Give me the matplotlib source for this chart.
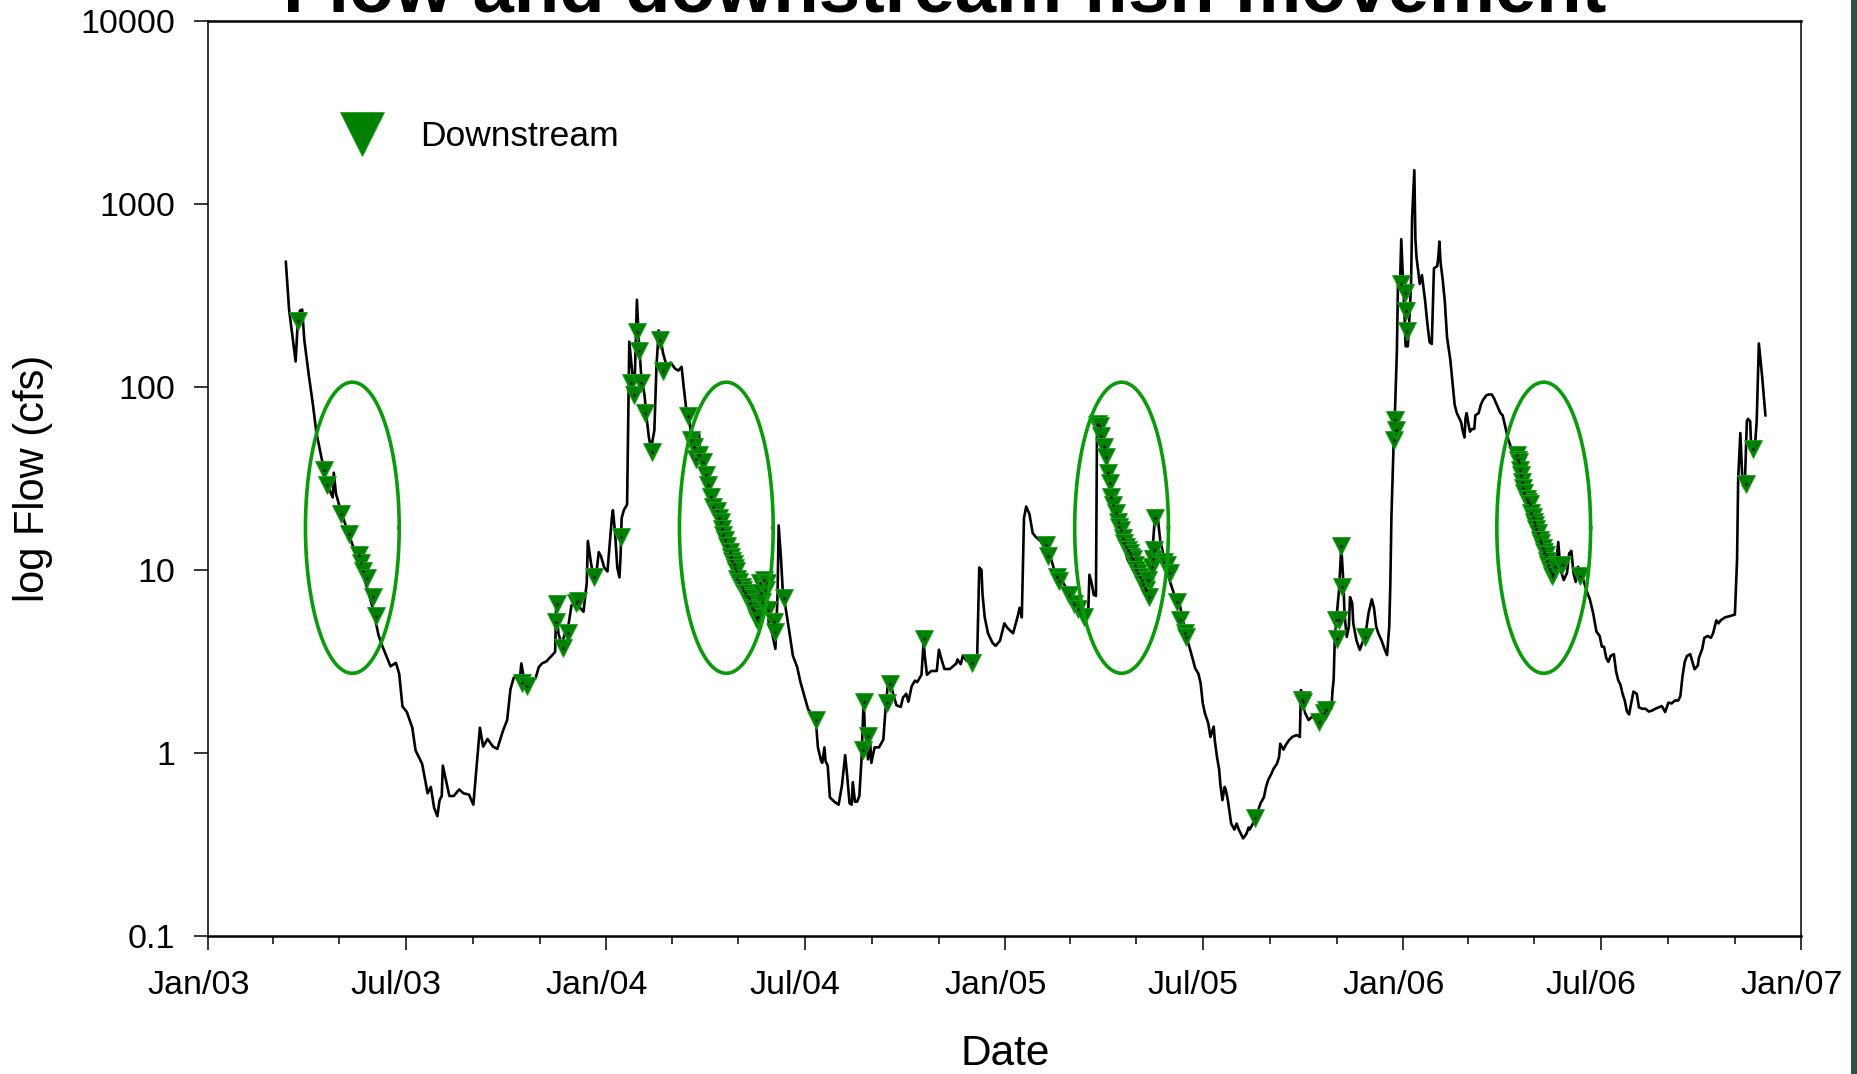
import numpy as np
import pandas as pd
import matplotlib
matplotlib.use("Agg")
import matplotlib.pyplot as plt
import matplotlib.dates as mdates
from matplotlib.ticker import FixedLocator, FixedFormatter, NullLocator
from matplotlib.transforms import ScaledTranslation
from matplotlib.patches import Rectangle

plt.rcParams['font.family'] = ['Liberation Sans', 'DejaVu Sans']

# ---------------- data ----------------
record_start = '2003-01-01'   # day 0 of the record

flow_day = [71, 74, 80, 82, 84, 86, 88, 92, 96, 99, 104, 107, 111, 114, 115, 117, 122, 128, 133, 139,
            145, 151, 156, 159, 163, 167, 172, 175, 178, 182, 187, 190, 196, 199, 201, 204, 207, 210, 212, 214,
            215, 218, 221, 225, 230, 234, 239, 243, 246, 249, 252, 256, 261, 265, 270, 274, 277, 280, 286, 287,
            290, 293, 300, 303, 306, 310, 315, 318, 319, 321, 324, 327, 330, 333, 338, 344, 347, 348, 351, 353,
            356, 358, 360, 363, 366, 370, 371, 373, 375, 377, 378, 379, 381, 384, 386, 389, 391, 392, 393, 395,
            397, 400, 402, 404, 406, 409, 411, 413, 414, 417, 420, 424, 428, 431, 434, 436, 438, 441, 443, 445,
            448, 450, 451, 454, 457, 461, 464, 468, 471, 475, 478, 482, 485, 489, 492, 496, 499, 503, 505, 506,
            509, 512, 514, 517, 520, 522, 523, 525, 527, 529, 533, 536, 540, 543, 547, 550, 554, 557, 559, 562,
            563, 565, 566, 568, 570, 574, 578, 581, 584, 586, 588, 590, 591, 593, 595, 597, 599, 601, 602, 605,
            607, 608, 611, 615, 619, 621, 623, 625, 628, 631, 635, 637, 640, 642, 645, 648, 650, 654, 656, 657,
            659, 663, 668, 670, 672, 675, 680, 686, 687, 690, 692, 695, 700, 705, 707, 709, 710, 712, 715, 719,
            722, 726, 730, 733, 738, 742, 744, 746, 748, 750, 753, 756, 759, 763, 766, 770, 773, 777, 780, 784,
            787, 791, 794, 798, 801, 804, 807, 808, 810, 812, 814, 815, 817, 820, 822, 826, 829, 833, 836, 840,
            843, 849, 854, 859, 863, 865, 866, 868, 871, 873, 877, 880, 884, 887, 891, 894, 898, 901, 905, 908,
            910, 912, 914, 917, 919, 922, 923, 925, 927, 928, 930, 932, 933, 935, 937, 938, 941, 943, 945, 948,
            949, 952, 954, 955, 958, 960, 962, 965, 968, 970, 972, 975, 977, 980, 982, 983, 986, 988, 991, 994,
            998, 1001, 1002, 1004, 1006, 1009, 1012, 1015, 1018, 1021, 1024, 1027, 1030, 1031, 1032, 1033, 1035, 1037, 1039, 1041,
            1042, 1044, 1046, 1047, 1049, 1050, 1053, 1056, 1059, 1061, 1064, 1067, 1069, 1071, 1073, 1076, 1079, 1081, 1083, 1084,
            1085, 1087, 1088, 1090, 1091, 1093, 1094, 1096, 1097, 1098, 1100, 1101, 1103, 1104, 1106, 1107, 1108, 1110, 1111, 1113,
            1114, 1116, 1118, 1120, 1122, 1123, 1124, 1127, 1128, 1129, 1130, 1132, 1134, 1136, 1139, 1141, 1143, 1145, 1147, 1149,
            1150, 1152, 1153, 1154, 1156, 1157, 1159, 1161, 1162, 1165, 1167, 1169, 1172, 1174, 1177, 1179, 1182, 1185, 1187, 1189,
            1192, 1195, 1198, 1201, 1204, 1207, 1211, 1214, 1217, 1220, 1223, 1226, 1229, 1232, 1234, 1236, 1238, 1240, 1243, 1246,
            1248, 1250, 1252, 1254, 1256, 1259, 1261, 1264, 1267, 1270, 1273, 1276, 1278, 1280, 1282, 1284, 1286, 1289, 1291, 1293,
            1295, 1297, 1299, 1301, 1303, 1305, 1307, 1310, 1312, 1315, 1318, 1321, 1324, 1327, 1330, 1333, 1336, 1339, 1342, 1345,
            1348, 1350, 1352, 1354, 1356, 1359, 1361, 1363, 1366, 1367, 1370, 1372, 1375, 1378, 1380, 1383, 1385, 1387, 1391, 1396,
            1400, 1402, 1403, 1405, 1407, 1409, 1411, 1412, 1414, 1415, 1418, 1420, 1422, 1425, 1428]

flow_cfs = [484, 265, 138, 229, 262, 265, 180, 117, 79, 56.5, 40.3, 33.2, 27.4, 24.9, 34.0, 26.1, 20.5, 16.1, 13.3, 10.4,
            8.2, 6.1, 4.4, 3.9, 3.4, 2.97, 3.1, 2.7, 1.79, 1.67, 1.37, 1.03, 0.87, 0.70, 0.60, 0.65, 0.50, 0.45, 0.55, 0.58,
            0.85, 0.70, 0.58, 0.58, 0.63, 0.60, 0.59, 0.52, 0.85, 1.37, 1.08, 1.19, 1.08, 1.05, 1.31, 1.51, 2.22, 2.57, 2.67, 3.08,
            2.43, 2.43, 2.55, 2.94, 3.08, 3.16, 3.4, 3.56, 6.5, 4.5, 3.9, 4.5, 4.9, 6.4, 6.5, 5.9, 8.5, 14.4, 10.8, 9.4,
            9.8, 12.5, 11.9, 10.3, 9.8, 19.2, 21.2, 15.9, 10.3, 9.1, 11.9, 19.2, 21.2, 22.8, 177, 115, 109, 177, 300, 168,
            115, 90, 67, 53, 46, 58, 132, 204, 195, 153, 132, 136, 126, 123, 129, 99, 78, 67, 53, 48,
            46, 56, 42, 38, 31, 25.7, 22.2, 19.2, 16.7, 14.4, 12.5, 10.8, 9.4, 8.1, 7.3, 6.7, 5.8, 5.1, 4.9, 6.4,
            8.5, 8.1, 5.0, 4.5, 3.7, 7.3, 17.5, 11.9, 7.3, 6.4, 4.5, 3.4, 2.94, 2.43, 2.0, 1.73, 1.61, 1.53, 1.07, 0.90,
            0.88, 1.07, 0.90, 0.85, 0.57, 0.54, 0.52, 0.66, 0.97, 0.73, 0.53, 0.52, 0.69, 0.54, 0.54, 0.58, 0.92, 1.95, 1.36, 0.92,
            1.12, 0.88, 1.07, 1.07, 1.18, 1.73, 2.31, 2.48, 2.1, 1.82, 1.78, 2.0, 2.1, 1.9, 2.31, 2.48, 2.43, 2.67, 4.1, 3.4,
            2.67, 2.8, 2.8, 3.66, 3.3, 2.87, 2.87, 3.08, 3.24, 3.05, 3.4, 3.2, 3.08, 3.24, 10.3, 10.0, 7.3, 5.5, 4.5, 4.0,
            3.84, 4.1, 5.1, 4.8, 4.5, 5.5, 6.2, 5.5, 19.2, 22.2, 20.2, 15.9, 15.1, 14.4, 13.4, 12.5, 11.4, 9.4, 8.9, 8.5,
            7.9, 7.3, 6.7, 6.1, 5.6, 5.5, 6.1, 9.4, 8.5, 7.3, 7.2, 64, 64, 56, 46, 32.7, 24.5, 19.2, 15.9, 13.1,
            11.4, 9.8, 8.5, 7.5, 7.2, 10.8, 13.1, 19.2, 18.6, 14.4, 11.4, 9.4, 7.9, 7.0, 6.4, 5.2, 4.1, 3.56, 2.9, 2.7,
            2.4, 1.86, 1.64, 1.45, 1.22, 1.39, 1.17, 0.95, 0.81, 0.68, 0.55, 0.65, 0.63, 0.55, 0.45, 0.41, 0.38, 0.41, 0.38, 0.35,
            0.34, 0.36, 0.39, 0.38, 0.41, 0.44, 0.47, 0.53, 0.57, 0.65, 0.71, 0.77, 0.82, 0.87, 0.95, 1.12, 1.04, 1.10, 1.17, 1.22,
            1.25, 1.22, 2.2, 1.79, 1.64, 1.51, 1.57, 1.54, 1.48, 1.51, 1.64, 1.67, 1.75, 2.2, 2.5, 4.1, 5.8, 7.8, 13.4, 8.4,
            5.7, 4.3, 4.9, 7.1, 6.6, 5.1, 4.1, 3.65, 4.1, 4.35, 5.8, 6.9, 6.2, 4.9, 4.5, 4.1, 3.65, 3.42, 4.9, 8.4,
            19.5, 49, 66, 157, 366, 387, 643, 346, 247, 167, 167, 208, 366, 851, 1535, 643, 513, 409, 366, 409,
            366, 292, 221, 176, 172, 276, 446, 458, 513, 624, 485, 387, 292, 187, 141, 106, 80, 72, 68, 64,
            59, 53, 68, 72, 61, 57, 59, 59, 70, 72, 80, 85, 90, 91, 91, 87, 79, 72, 70, 62,
            52, 46, 41, 35, 29.5, 25.6, 22.3, 19.4, 16.8, 15, 13.4, 11.7, 10.1, 9.0, 10.1, 10.7, 14.2, 10.1, 8.8, 9.6,
            12.3, 12.7, 9.6, 8.6, 10.4, 9.9, 8.8, 7.7, 6.9, 5.8, 4.6, 4.35, 3.8, 3.8, 3.3, 3.14, 3.38, 3.46, 2.79, 2.49,
            2.36, 2.1, 1.93, 1.68, 1.62, 1.88, 2.16, 2.1, 1.77, 1.74, 1.74, 1.68, 1.7, 1.74, 1.77, 1.8, 1.67, 1.88, 1.86, 1.93,
            1.93, 2.04, 2.63, 3.14, 3.38, 3.46, 3.14, 2.86, 3.0, 3.3, 3.69, 4.25, 4.35, 4.25, 4.5, 5.3, 5.1, 5.3, 5.5, 5.6,
            5.7, 11.4, 31.3, 56, 29.5, 28, 65, 67, 65, 46, 43.7, 65, 173, 114, 70]

# downstream fish movements (day of record, flow at detection)
move_day = [82, 106, 109, 122, 129, 138, 140, 142, 145, 151, 154,
            288, 292, 319, 320, 325, 330, 337, 339, 354, 378, 388, 390, 393, 395, 397, 400, 407, 414, 417,
            440, 443, 445, 447, 450, 454, 456, 458, 461, 463, 466, 468, 470, 471, 472, 474, 476, 478, 479, 480,
            482, 483, 484, 485, 487, 489, 490, 492, 494, 496, 497, 499, 500, 502, 503, 504, 506, 507, 508, 510,
            511, 512, 513, 519, 520, 528,
            557, 600, 601, 605, 622, 625, 656, 700,
            768, 770, 778, 780, 789, 794, 798, 803,
            815, 816, 818, 819, 821, 823, 825, 827, 828, 830, 832, 834, 835, 837, 839, 840, 842, 843, 845, 846,
            848, 850, 851, 853, 854, 856, 857, 859, 860, 862, 863, 865, 866, 867, 868, 876, 879, 882, 888, 891,
            896, 897,
            960, 1003, 1004, 1019, 1023, 1025, 1034, 1035, 1037, 1039, 1040, 1061, 1087, 1088, 1089,
            1094, 1097, 1098, 1099,
            1200, 1201, 1202, 1203, 1204, 1205, 1206, 1207, 1209, 1210, 1212, 1213, 1215, 1216, 1217, 1218, 1219, 1221, 1222, 1224,
            1225, 1227, 1228, 1229, 1230, 1231, 1232, 1233, 1235, 1241, 1258,
            1410, 1417]

move_cfs = [231, 35, 29.3, 20.2, 15.8, 12.1, 10.9, 9.9, 9.0, 7.1, 5.6,
            2.4, 2.33, 5.2, 6.5, 3.74, 4.5, 6.6, 6.8, 9.1, 15.1, 105, 90, 199, 157, 105, 72, 44, 181, 123,
            69, 51, 47, 40.6, 42.7, 38.7, 33, 29, 25, 22, 21, 19.2, 18.2, 16.7, 15.5, 14.6, 13.5, 12.5, 11.8, 11.2,
            10.8, 10.2, 9.8, 8.9, 8.6, 8.1, 7.8, 7.5, 7.2, 7.0, 6.6, 6.2, 6.0, 5.5, 5.3, 5.5, 8.5, 7.5, 6.7, 8.8,
            7.8, 8.5, 6.0, 5.2, 4.6, 7.0,
            1.51, 1.04, 1.9, 1.23, 1.86, 2.37, 4.2, 3.08,
            13.6, 11.9, 9.1, 8.7, 7.3, 6.5, 6.1, 5.5,
            62, 63, 61, 54, 47, 41.6, 33.7, 29.7, 25.1, 22.6, 20.4, 18.3, 17.2, 16.5, 14.9, 14, 13.4, 12.8, 12.3, 11.8,
            11.4, 10.6, 10.0, 9.6, 9.1, 8.8, 8.4, 8.0, 7.8, 8.8, 7.1, 10.4, 11.4, 12.8, 19.1, 11.0, 10.6, 9.6, 6.7, 5.3,
            4.5, 4.3,
            0.44, 1.94, 1.9, 1.48, 1.64, 1.71, 5.3, 4.2, 5.3, 13.5, 8.1, 4.3, 51, 66, 58,
            366, 327, 261, 203,
            42.6, 40, 39, 35, 33, 30.4, 28, 26.4, 24.5, 23.5, 22.9, 20.5, 19.5, 18.3, 17.5, 16.8, 16, 14.6, 14, 13.1,
            12.5, 12, 11.2, 10.7, 10.1, 9.7, 9.3, 9.5, 10.4, 10.7, 9.3,
            29.5, 46]

# highlighted spring recession periods
ellipse_centre_date = ['2003-05-13', '2004-04-20', '2005-04-17 12:00', '2006-05-09 16:00']
ellipse_centre_cfs = [17.0, 17.0, 17.0, 17.0]
ellipse_half_days = 43.0
ellipse_half_decades = 0.796

title_text = 'Flow and downstream fish movement'
legend_label = 'Downstream'
x_label = 'Date'
y_label = 'log Flow (cfs)'
y_tick_values = [0.1, 1, 10, 100, 1000, 10000]
y_tick_labels = ['0.1', '1', '10', '100', '1000', '10000']
x_limits = ['2003-01-01', '2007-01-01']

# ---------------- figure ----------------
W, H = 1857, 1074
fig = plt.figure(figsize=(W / 100, H / 100), dpi=100)
ax = fig.add_axes([208.4 / W, 1 - 935.6 / H, (1801.4 - 208.4) / W, (935.6 - 21.3) / H])

t0 = pd.Timestamp(record_start)
flow_dates = t0 + pd.to_timedelta(flow_day, unit='D')
move_dates = t0 + pd.to_timedelta(move_day, unit='D')

ax.plot(flow_dates, flow_cfs, color='black', lw=1.9, zorder=2)
ax.plot(move_dates, move_cfs, linestyle='none', marker='v', ms=12.5,
        mfc='#008000', mec='#1f9f1f', mew=0.6, label=legend_label, zorder=3)
ax.plot(move_dates, move_cfs, linestyle='none', marker='.', ms=1.6, color='black', zorder=4)

theta = np.linspace(0, 2 * np.pi, 400)
for cd, cv in zip(ellipse_centre_date, ellipse_centre_cfs):
    cx = mdates.date2num(pd.Timestamp(cd))
    ex = cx + ellipse_half_days * np.cos(theta)
    ey = 10 ** (np.log10(cv) + ellipse_half_decades * np.sin(theta))
    ax.plot(ex, ey, color='#0a9a0a', lw=2.6, zorder=5)

ax.set_yscale('log')
ax.set_ylim(y_tick_values[0], y_tick_values[-1])
ax.set_xlim(pd.Timestamp(x_limits[0]), pd.Timestamp(x_limits[1]))

ax.yaxis.set_major_locator(FixedLocator(y_tick_values))
ax.yaxis.set_major_formatter(FixedFormatter(y_tick_labels))
ax.yaxis.set_minor_locator(NullLocator())
ax.xaxis.set_major_locator(mdates.MonthLocator(bymonth=[1, 7]))
ax.xaxis.set_major_formatter(mdates.DateFormatter('%b/%y'))
ax.xaxis.set_minor_locator(mdates.MonthLocator(bymonth=[3, 5, 9, 11]))

ax.tick_params(axis='both', which='major', direction='out', length=10, width=1.1,
               labelsize=24.5, color='black')
ax.tick_params(axis='x', which='major', pad=15)
ax.tick_params(axis='y', which='major', pad=14)
ax.tick_params(axis='x', which='minor', direction='out', length=5.5, width=1.1)

for tk in ax.xaxis.get_major_ticks():
    tk.label1.set_transform(tk.label1.get_transform() +
                            ScaledTranslation(-10 / 100, 0, fig.dpi_scale_trans))

for s in ['top', 'bottom']:
    ax.spines[s].set_linewidth(1.8)
for s in ['left', 'right']:
    ax.spines[s].set_linewidth(1.1)

ax.set_xlabel(x_label, fontsize=30.5)
ax.xaxis.set_label_coords(0.5, (935.6 - 1054) / (935.6 - 21.3))
ax.xaxis.label.set_verticalalignment('center')
ax.set_ylabel(y_label, fontsize=30)
ax.yaxis.set_label_coords((33 - 208.4) / (1801.4 - 208.4), 0.5)
ax.yaxis.label.set_verticalalignment('center')

ax.legend(loc='center left', bbox_to_anchor=((335.5 - 208.4) / 1593.0, (935.6 - 136.5) / 914.3),
          frameon=False, markerscale=2.5, fontsize=25.5, handlelength=1.5,
          handletextpad=0.89, borderpad=0, borderaxespad=0)

fig.text(944.5 / W, 1 - 12 / H, title_text, ha='center', va='baseline',
         fontsize=53.5, fontweight='bold')

fig.add_artist(Rectangle((1851 / W, 0), 6 / W, 1, transform=fig.transFigure,
                         facecolor='#2f4f46', edgecolor='none'))

fig.savefig('out.png', dpi=100)
